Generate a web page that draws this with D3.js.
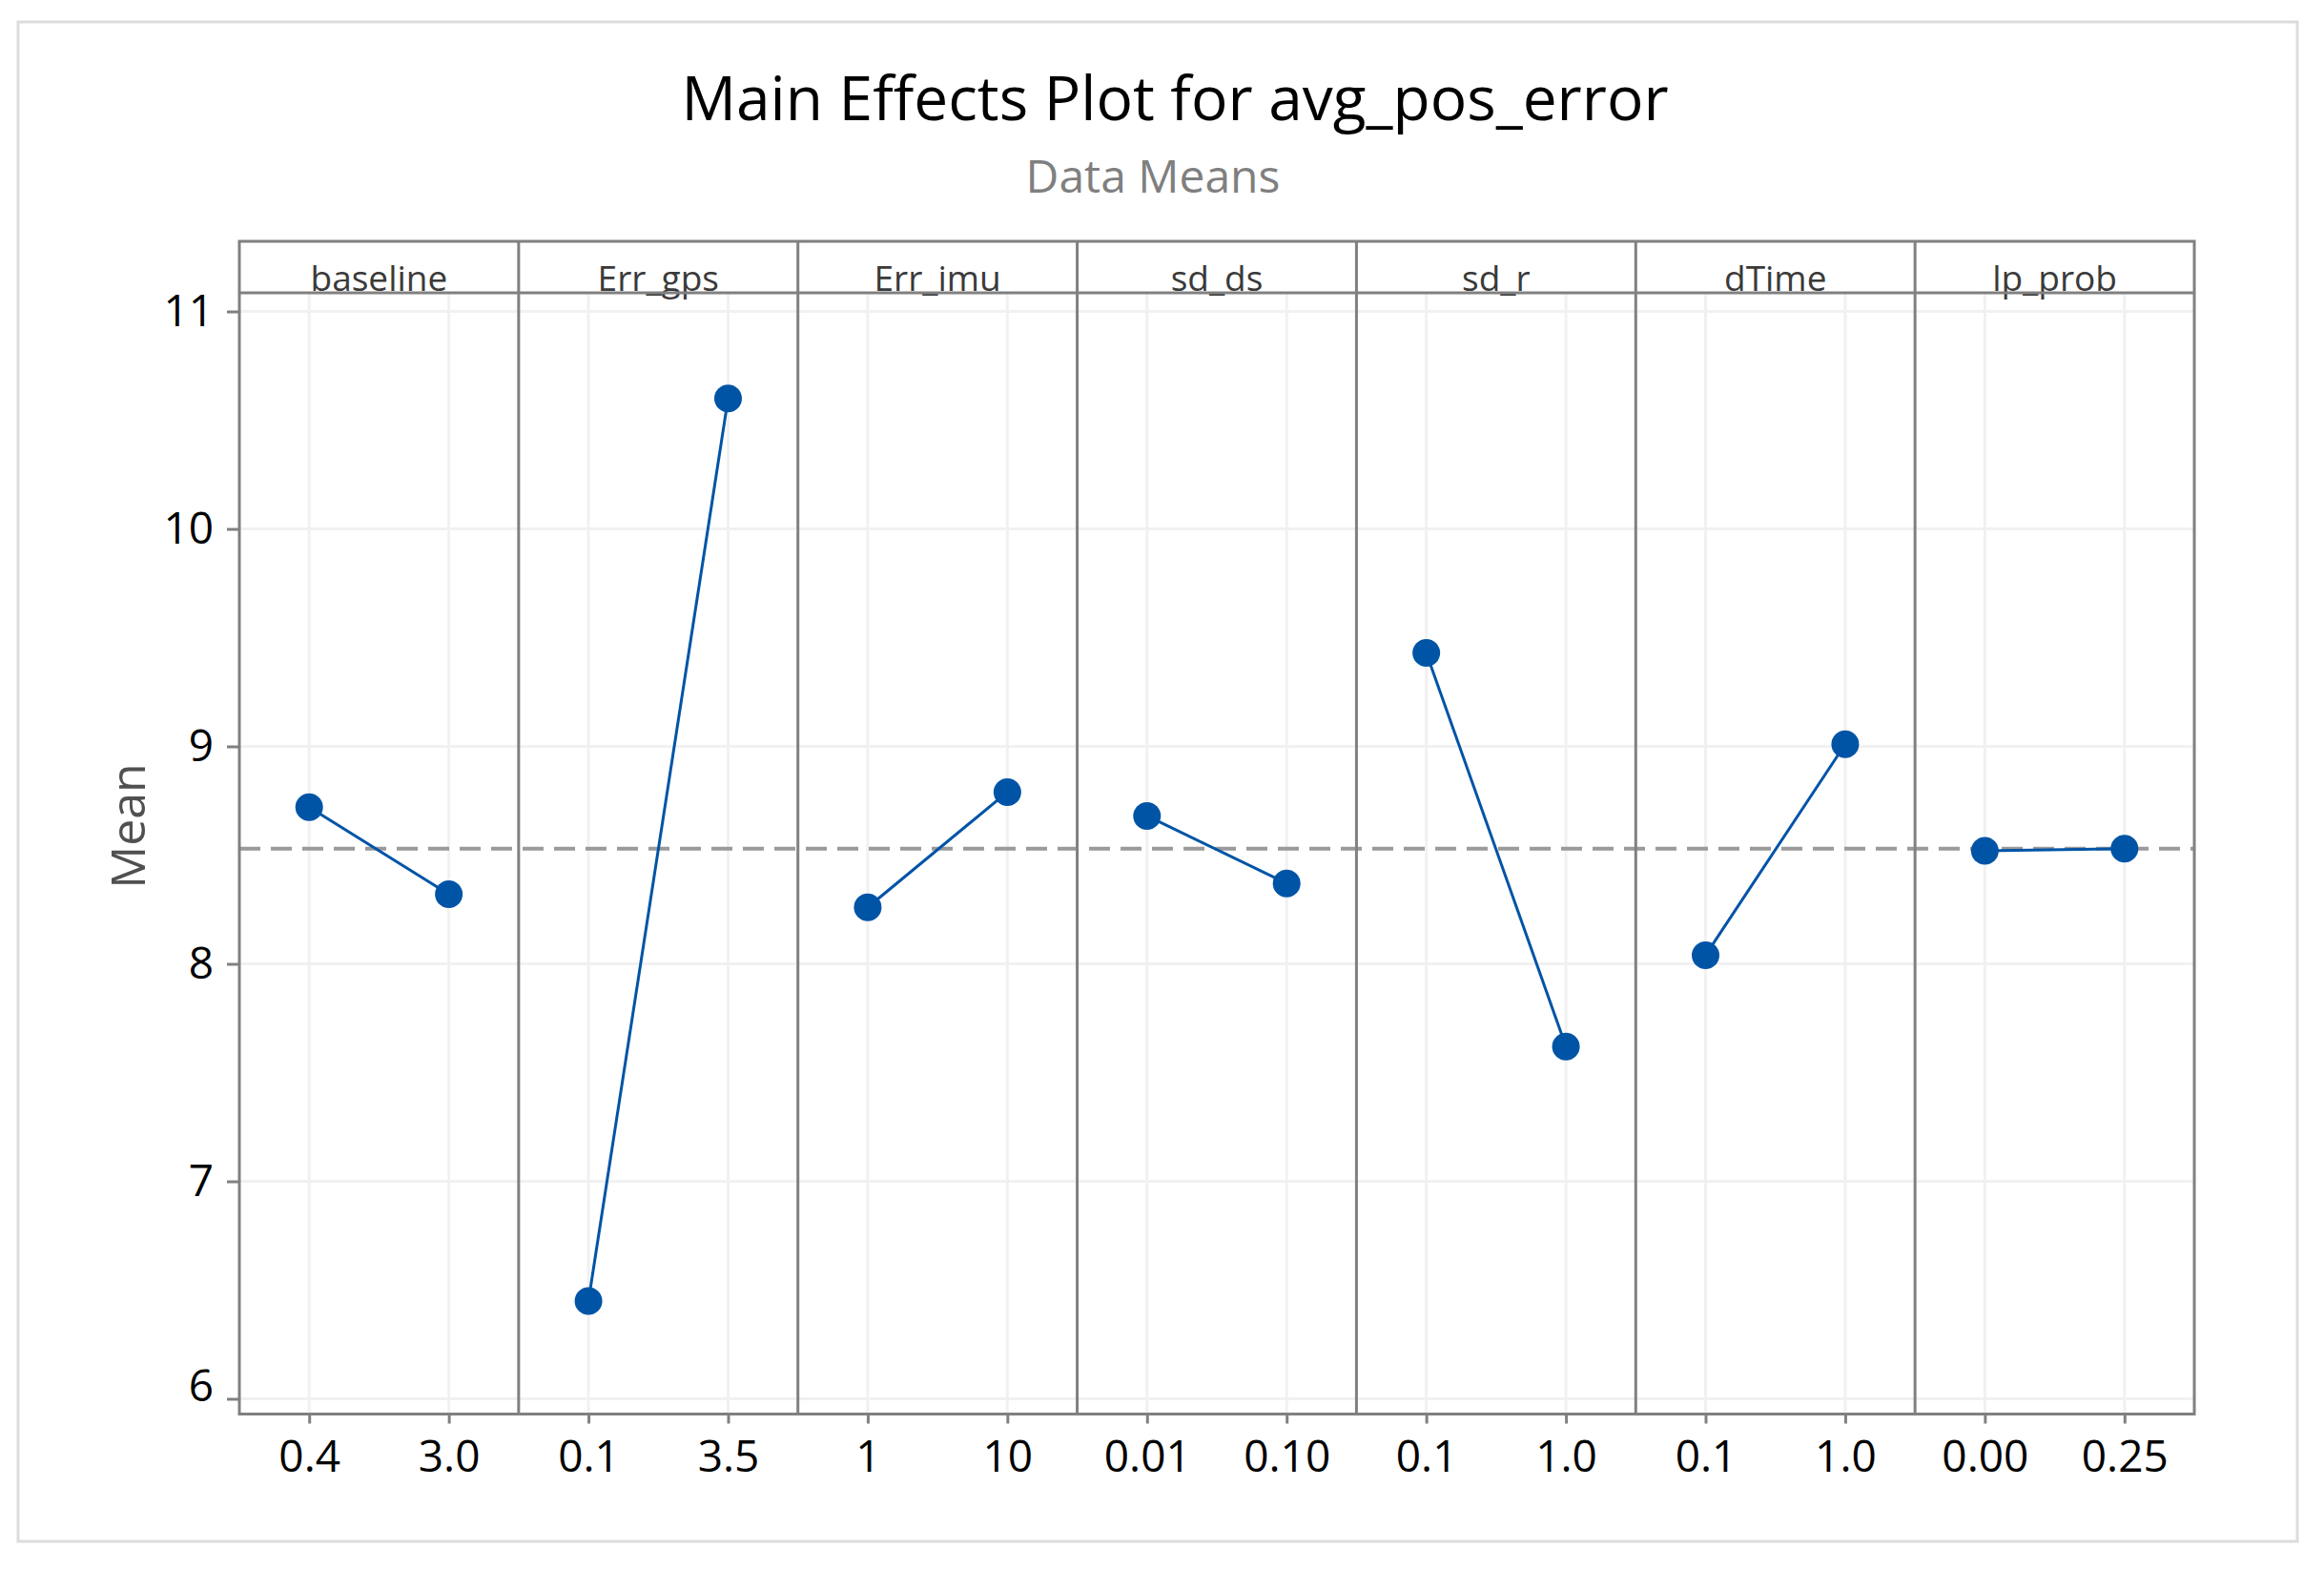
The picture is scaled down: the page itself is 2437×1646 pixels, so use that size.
<!DOCTYPE html>
<html>
<head>
<meta charset="utf-8">
<script src="https://cdn.jsdelivr.net/npm/d3@7"></script>
<style>
  html, body { margin: 0; padding: 0; background: #ffffff; }
  svg { display: block; font-family: "Open Sans", "Noto Sans", sans-serif; }
</style>
</head>
<body>
<svg id="chart" width="2437" height="1646"></svg>
<script>
// ---------- data ----------
const factors = ["baseline", "Err_gps", "Err_imu", "sd_ds", "sd_r", "dTime", "lp_prob"];
const levels = [
  ["0.4", "3.0"],
  ["0.1", "3.5"],
  ["1", "10"],
  ["0.01", "0.10"],
  ["0.1", "1.0"],
  ["0.1", "1.0"],
  ["0.00", "0.25"]
];
const means = [
  [8.72, 8.32],
  [6.45, 10.60],
  [8.26, 8.79],
  [8.68, 8.37],
  [9.43, 7.62],
  [8.04, 9.01],
  [8.52, 8.53]
];
const overallMean = 8.53;
const yTicks = [6, 7, 8, 9, 10, 11];
const titleText = "Main Effects Plot for avg_pos_error";
const subtitleText = "Data Means";
const yLabel = "Mean";

// ---------- layout ----------
const W = 2437, H = 1646;
const plotL = 251, plotR = 2301, headTop = 253, headBot = 307, plotB = 1482.5;
const frameColor = "#808080";
const gridColor = "#f1f1f1";
const blue = "#0054a6";

const svg = d3.select("#chart");

// outer border
svg.append("rect")
  .attr("x", 19).attr("y", 23).attr("width", 2390).attr("height", 1593)
  .attr("fill", "#ffffff").attr("stroke", "#dcdcdc").attr("stroke-width", 3);

// title
svg.append("text").attr("x", 1232).attr("y", 126).attr("text-anchor", "middle")
  .attr("font-size", 64).attr("fill", "#000").text(titleText);
svg.append("text").attr("x", 1209).attr("y", 202).attr("text-anchor", "middle")
  .attr("font-size", 48).attr("fill", "#7f7f7f").text(subtitleText);

// scales
const y = d3.scaleLinear()
  .domain([6 - (plotB - 1466.5) / 228, 11 + (326.5 - headBot) / 228])
  .range([plotB, headBot]);
const panel = d3.scaleBand().domain(factors).range([plotL, plotR]).paddingInner(0).paddingOuter(0);
const bw = panel.bandwidth();

// horizontal gridlines
svg.append("g").selectAll("line").data(yTicks).join("line")
  .attr("x1", plotL).attr("x2", plotR)
  .attr("y1", d => y(d)).attr("y2", d => y(d))
  .attr("stroke", gridColor).attr("stroke-width", 3);

// per-panel
factors.forEach((f, i) => {
  const x0 = panel(f);
  const xp = d3.scalePoint().domain(levels[i]).range([x0, x0 + bw]).padding(0.5);
  const g = svg.append("g");

  // vertical gridlines
  g.selectAll("line.vg").data(levels[i]).join("line").attr("class", "vg")
    .attr("x1", d => xp(d)).attr("x2", d => xp(d))
    .attr("y1", headBot).attr("y2", plotB)
    .attr("stroke", gridColor).attr("stroke-width", 3);

  // x axis
  const ax = svg.append("g").attr("transform", `translate(0,${plotB})`)
    .call(d3.axisBottom(xp).tickSize(10).tickPadding(18));
  ax.select(".domain").remove();
  ax.selectAll(".tick line").attr("stroke", frameColor).attr("stroke-width", 3);
  ax.selectAll(".tick text").attr("font-size", 46).attr("fill", "#000")
    .attr("font-family", "Open Sans, sans-serif");

  // header label
  svg.append("text").attr("x", x0 + bw / 2).attr("y", 305)
    .attr("text-anchor", "middle").attr("font-size", 37).attr("fill", "#3a3a3a")
    .text(f);
});

// dashed overall mean line
svg.append("line")
  .attr("x1", plotL).attr("x2", plotR)
  .attr("y1", y(overallMean)).attr("y2", y(overallMean))
  .attr("stroke", "#9a9a9a").attr("stroke-width", 4).attr("stroke-dasharray", "22,11");

// panel dividers & frame
factors.slice(1).forEach(f => {
  svg.append("line").attr("x1", panel(f)).attr("x2", panel(f))
    .attr("y1", headTop).attr("y2", plotB)
    .attr("stroke", frameColor).attr("stroke-width", 3);
});
svg.append("rect").attr("x", plotL).attr("y", headTop)
  .attr("width", plotR - plotL).attr("height", plotB - headTop)
  .attr("fill", "none").attr("stroke", frameColor).attr("stroke-width", 3);
svg.append("line").attr("x1", plotL).attr("x2", plotR)
  .attr("y1", headBot).attr("y2", headBot)
  .attr("stroke", frameColor).attr("stroke-width", 3);

// y axis
const ay = svg.append("g").attr("transform", `translate(${plotL},0)`)
  .call(d3.axisLeft(y).tickValues(yTicks).tickFormat(d3.format("d")).tickSize(13).tickPadding(14));
ay.select(".domain").remove();
ay.selectAll(".tick line").attr("stroke", frameColor).attr("stroke-width", 3);
ay.selectAll(".tick text").attr("font-size", 46).attr("fill", "#000")
  .attr("font-family", "Open Sans, sans-serif");
// lowest label sits slightly above its tick, as in the reference
ay.selectAll(".tick text").filter(d => d === yTicks[0]).attr("dy", "0.05em");

// y label
svg.append("text").attr("transform", "translate(152,866) rotate(-90)")
  .attr("text-anchor", "middle").attr("font-size", 50).attr("fill", "#505050")
  .text(yLabel);

// data lines & points
factors.forEach((f, i) => {
  const x0 = panel(f);
  const xp = d3.scalePoint().domain(levels[i]).range([x0, x0 + bw]).padding(0.5);
  const pts = levels[i].map((lv, j) => ({ lv, v: means[i][j] }));
  const line = d3.line().x(d => xp(d.lv)).y(d => y(d.v));
  svg.append("path").datum(pts).attr("d", line)
    .attr("fill", "none").attr("stroke", blue).attr("stroke-width", 3);
  svg.append("g").selectAll("circle").data(pts).join("circle")
    .attr("cx", d => xp(d.lv)).attr("cy", d => y(d.v)).attr("r", 14.5)
    .attr("fill", blue);
});
</script>
</body>
</html>
